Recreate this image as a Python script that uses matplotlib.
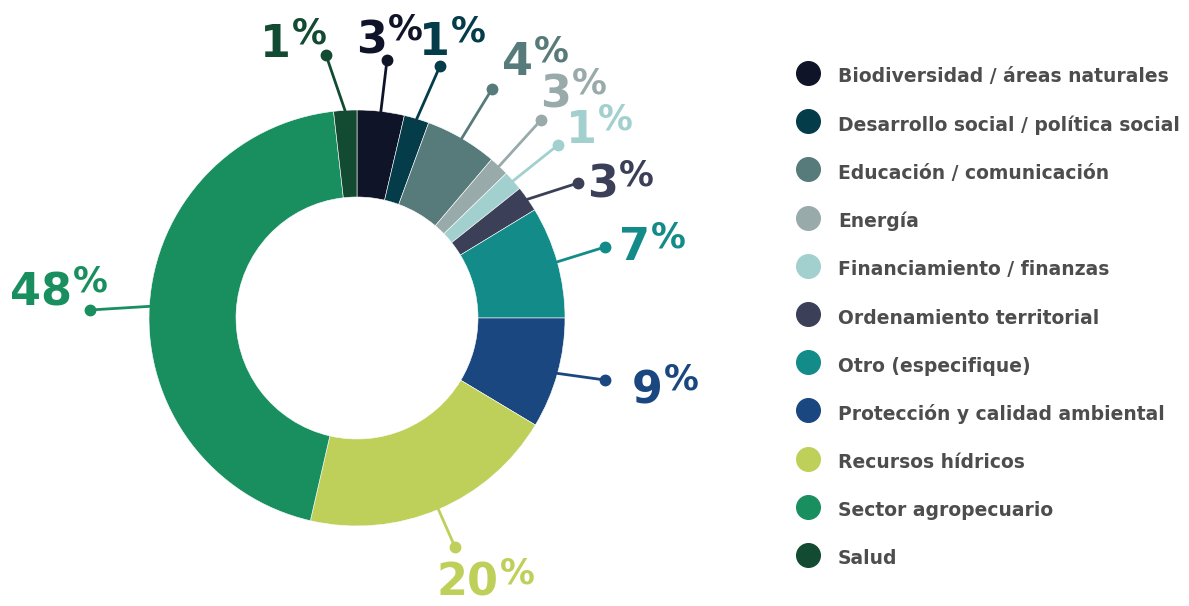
import numpy as np
import matplotlib.pyplot as plt

W, H = 1189, 606

categories = ['Biodiversidad / áreas naturales', 'Desarrollo social / política social',
              'Educación / comunicación', 'Energía', 'Financiamiento / finanzas',
              'Ordenamiento territorial', 'Otro (especifique)', 'Protección y calidad ambiental',
              'Recursos hídricos', 'Sector agropecuario', 'Salud']
# slice shares as drawn, and the rounded labels printed on the chart
shares = [3.66, 1.94, 5.6, 1.55, 1.55, 2.0, 8.7, 8.6, 20.0, 44.6, 1.8]
pct_labels = ['3', '1', '4', '3', '1', '3', '7', '9', '20', '48', '1']
colors = ['#0f1429', '#043c4a', '#577a7a', '#99aaab', '#a2d0cf', '#3b4058',
          '#138b89', '#1a4780', '#bfd05a', '#198f60', '#124b32']

# layout in pixels (y measured from top)
center = (357, 318)
r_out, r_in = 208, 121
dot_pos = [(387, 60), (440, 66), (492, 89), (541, 120), (558, 145), (578, 183),
           (605, 247), (605, 380), (455, 547), (90, 310), (326, 55)]
label_pos = [(387, 53), (450, 55), (533, 75), (571, 107), (597, 143), (618, 198),
             (650, 260), (663, 403), (499, 596), (72, 305), (291, 57)]

fig = plt.figure(figsize=(W / 100, H / 100), dpi=100)
ax = fig.add_axes([0, 0, 1, 1])

def fy(y):
    return H - y

ax.pie(shares, colors=colors, startangle=90, counterclock=False,
       center=(center[0], fy(center[1])), radius=r_out,
       wedgeprops=dict(width=r_out - r_in, edgecolor='white', linewidth=0.4))

# leader lines + labels
cum = np.cumsum([0] + shares)
for i in range(len(shares)):
    mid = (cum[i] + cum[i + 1]) / 2 / cum[-1] * 2 * np.pi
    x0 = center[0] + (r_out - 1) * np.sin(mid)
    y0 = center[1] - (r_out - 1) * np.cos(mid)
    dx, dy = dot_pos[i]
    ax.plot([x0, dx], [fy(y0), fy(dy)], color=colors[i], lw=2, solid_capstyle='butt')
    ax.plot(dx, fy(dy), 'o', color=colors[i], markersize=7.5)
    lx, ly = label_pos[i]
    ax.text(lx, fy(ly), pct_labels[i], color=colors[i], fontsize=32, fontweight='heavy',
            ha='right', va='baseline', family='DejaVu Sans')
    ax.text(lx + 1, fy(ly - 13), '%', color=colors[i], fontsize=25, fontweight='bold',
            ha='left', va='baseline', family='DejaVu Sans')

# legend
for i, name in enumerate(categories):
    yy = 73 + 48.2 * i
    ax.plot(808, fy(yy), 'o', color=colors[i], markersize=17)
    ax.text(838, fy(yy + 9.5), name, color='#4d4d4d', fontsize=13.5, fontweight='bold',
            ha='left', va='baseline', family='DejaVu Sans')

ax.set_xlim(0, W)
ax.set_ylim(0, H)
ax.axis('off')

fig.savefig('out.png', dpi=100, facecolor='white')
